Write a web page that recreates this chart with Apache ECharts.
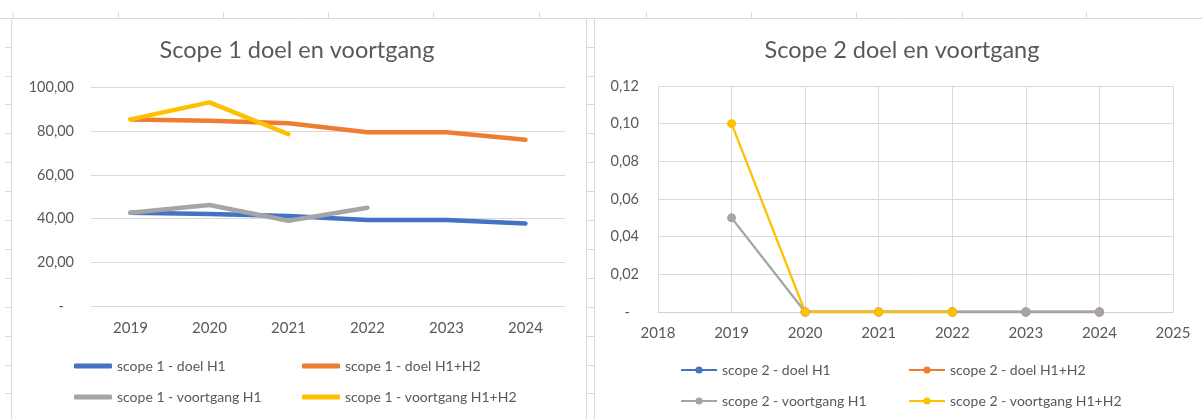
<!DOCTYPE html>
<html>
<head>
<meta charset="utf-8">
<script src="https://cdn.jsdelivr.net/npm/echarts@6/dist/echarts.min.js"></script>
<style>
html,body{margin:0;padding:0;background:#fff;}
#c{width:1202px;height:419px;}
</style>
</head>
<body>
<div id="c"></div>
<script>
// ---- data ----
const years1 = ['2019', '2020', '2021', '2022', '2023', '2024'];
const s1DoelH1 = [42.7, 42.1, 41.2, 39.4, 39.4, 37.8];
const s1DoelH1H2 = [85.4, 84.8, 83.6, 79.5, 79.5, 76.1];
const s1VoortgangH1 = [42.7, 46.2, 39.0, 45.0, null, null];
const s1VoortgangH1H2 = [85.4, 93.2, 78.6, null, null, null];

const years2 = [2019, 2020, 2021, 2022, 2023, 2024];
const s2DoelH1 = [null, 0, 0, 0, 0, 0];
const s2DoelH1H2 = [null, 0, 0, 0, 0, 0];
const s2VoortgangH1 = [0.05, 0, 0, 0, 0, 0];
const s2VoortgangH1H2 = [0.10, 0, 0, 0, null, null];

const names1 = ['scope 1 - doel H1', 'scope 1 - doel H1+H2', 'scope 1 - voortgang H1', 'scope 1 - voortgang H1+H2'];
const names2 = ['scope 2 - doel H1', 'scope 2 - doel H1+H2', 'scope 2 - voortgang H1', 'scope 2 - voortgang H1+H2'];
const titles = ['Scope 1 doel en voortgang', 'Scope 2 doel en voortgang'];

// ---- style ----
const FONT = 'Lato, "Open Sans", sans-serif';
const TXT = '#595959';
const GRIDC = '#d9d9d9';
const COLORS = ['#4472C4', '#ED7D31', '#A5A5A5', '#FFC000'];

const pairs = (xs, ys) => xs.map((x, i) => [x, ys[i]]);

const chart = echarts.init(document.getElementById('c'), null, {renderer: 'canvas'});

// Excel sheet background lines
const bg = [];
const line = (x1, y1, x2, y2) => bg.push({type: 'line', silent: true, z: -10,
  shape: {x1, y1, x2, y2}, style: {stroke: GRIDC, lineWidth: 1}});
line(0, 18.5, 1202, 18.5);
[13, 118.5, 223.5, 328.5, 433.5, 539.5, 646.5, 751.5, 856.5, 962.5, 1086.5].forEach(x => line(x, 12, x, 18));
line(11.5, 18, 11.5, 419);
line(586.5, 18, 586.5, 419);
line(594.5, 18, 594.5, 419);
[47.5, 76.5, 104.5, 133.5, 162.5, 191.5, 220.5, 249.5, 278.5, 307.5, 336.5, 365.5, 393.5].forEach(y => {
  line(5, y, 11, y);
  line(587, y, 594, y);
});
titles.forEach((t, i) => bg.push({type: 'text', silent: true,
  x: i === 0 ? 297 : 902, y: 50,
  style: {text: t, fill: TXT, font: '23.5px ' + FONT, textAlign: 'center', textVerticalAlign: 'middle'}}));

const legends = [];
const leg1Pos = [[74, 359], [302, 359], [74, 390], [302, 390]];
names1.forEach((n, i) => legends.push({
  data: [n], left: leg1Pos[i][0], top: leg1Pos[i][1], padding: 0,
  icon: 'roundRect', itemWidth: 38, itemHeight: 5,
  textStyle: {color: TXT, fontSize: 14, fontFamily: FONT}
}));
const leg2Pos = [[680, 363], [908, 363], [680, 394], [908, 394]];
names2.forEach((n, i) => legends.push({
  data: [n], left: leg2Pos[i][0], top: leg2Pos[i][1], padding: 0,
  itemWidth: 36, itemHeight: 9,
  textStyle: {color: TXT, fontSize: 14, fontFamily: FONT}
}));

const yFmt1 = v => v === 0 ? '{d|-}' : v.toFixed(2).replace('.', ',');
const yFmt2 = v => v === 0 ? '{d|-}' : v.toFixed(2).replace('.', ',');

const lineSeries1 = [s1DoelH1, s1DoelH1H2, s1VoortgangH1, s1VoortgangH1H2].map((d, i) => ({
  name: names1[i], type: 'line', xAxisIndex: 0, yAxisIndex: 0, data: d,
  showSymbol: false, symbol: 'none', connectNulls: false,
  lineStyle: {width: 4.5, color: COLORS[i], cap: 'round', join: 'round'},
  itemStyle: {color: COLORS[i]}, animation: false
}));
const lineSeries2 = [s2DoelH1, s2DoelH1H2, s2VoortgangH1, s2VoortgangH1H2].map((d, i) => ({
  name: names2[i], type: 'line', xAxisIndex: 1, yAxisIndex: 1,
  data: pairs(years2, d).filter(p => p[1] !== null),
  symbol: 'circle', symbolSize: 9, showSymbol: true,
  lineStyle: {width: 2.3, color: COLORS[i]},
  itemStyle: {color: COLORS[i], borderWidth: 0}, animation: false
}));

chart.setOption({
  animation: false,
  textStyle: {fontFamily: FONT},
  graphic: bg,
  legend: legends,
  grid: [
    {left: 91, right: 637, top: 87.5, bottom: 113, containLabel: false},
    {left: 658, right: 29, top: 86, bottom: 107, containLabel: false}
  ],
  xAxis: [
    {gridIndex: 0, type: 'category', data: years1, boundaryGap: true,
     axisLine: {show: false}, axisTick: {show: false},
     axisLabel: {color: TXT, fontSize: 15, fontFamily: FONT, margin: 15}},
    {gridIndex: 1, type: 'value', min: 2018, max: 2025, interval: 1,
     axisLine: {show: true, lineStyle: {color: '#d0d0d0', width: 1}}, axisTick: {show: false},
     splitLine: {show: true, lineStyle: {color: GRIDC, width: 1}},
     axisLabel: {color: TXT, fontSize: 15, fontFamily: FONT, margin: 14, formatter: v => String(v)}}
  ],
  yAxis: [
    {gridIndex: 0, type: 'value', min: 0, max: 100, interval: 20,
     axisLine: {show: false}, axisTick: {show: false},
     splitLine: {lineStyle: {color: GRIDC, width: 1}},
     axisLabel: {color: TXT, fontSize: 14.5, fontFamily: FONT, margin: 17, formatter: yFmt1,
       rich: {d: {color: TXT, fontSize: 14.5, fontFamily: FONT, padding: [0, 10, 0, 0]}}}},
    {gridIndex: 1, type: 'value', min: 0, max: 0.12, interval: 0.02,
     axisLine: {show: false}, axisTick: {show: false},
     splitLine: {lineStyle: {color: GRIDC, width: 1}},
     axisLabel: {color: TXT, fontSize: 14.5, fontFamily: FONT, margin: 19, formatter: yFmt2,
       rich: {d: {color: TXT, fontSize: 14.5, fontFamily: FONT, padding: [0, 9, 0, 0]}}}}
  ],
  series: lineSeries1.concat(lineSeries2)
});
</script>
</body>
</html>
